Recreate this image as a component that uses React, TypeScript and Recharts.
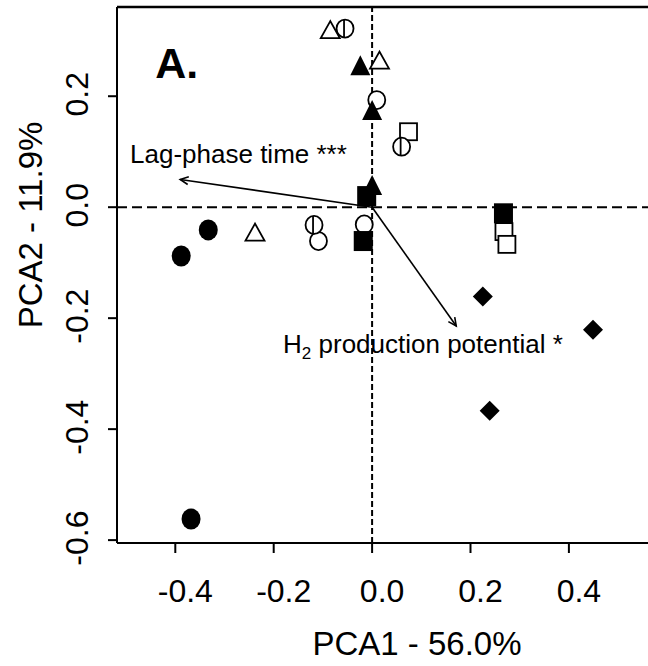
import React from "react";
import {
  ScatterChart,
  Scatter,
  XAxis,
  YAxis,
  ReferenceLine,
  ReferenceDot,
  Label,
} from "recharts";

// PCA scores, grouped by plotting symbol
const openTriangles = [
  { x: -0.085, y: 0.32 },
  { x: 0.015, y: 0.265 },
  { x: -0.238, y: -0.045 },
];
const openSquares = [
  { x: 0.074, y: 0.136 },
  { x: 0.268, y: -0.044 },
  { x: 0.274, y: -0.067 },
];
const openCircles = [
  { x: 0.0095, y: 0.193 },
  { x: -0.109, y: -0.061 },
  { x: -0.016, y: -0.031 },
];
const barredCircles = [
  { x: -0.055, y: 0.322 },
  { x: 0.06, y: 0.109 },
  { x: -0.118, y: -0.032 },
];
const filledCircles = [
  { x: -0.333, y: -0.041 },
  { x: -0.388, y: -0.088 },
  { x: -0.368, y: -0.562 },
];
const filledTriangles = [
  { x: -0.024, y: 0.256 },
  { x: 0.0, y: 0.175 },
  { x: 0.0, y: 0.04 },
];
const filledSquares = [
  { x: -0.011, y: 0.02 },
  { x: -0.018, y: -0.061 },
  { x: 0.267, y: -0.011 },
];
const filledDiamonds = [
  { x: 0.225, y: -0.161 },
  { x: 0.449, y: -0.221 },
  { x: 0.239, y: -0.367 },
];

// loading vectors (arrow tips)
const lagPhase = { x: -0.39, y: 0.05 };
const h2Potential = { x: 0.171, y: -0.214 };

const X_TICKS = [-0.4, -0.2, 0, 0.2, 0.4];
const Y_TICKS = [-0.6, -0.4, -0.2, 0, 0.2];
const X_DOMAIN = [-0.5185, 0.6868];
const Y_DOMAIN = [-0.6052, 0.3608];

const FONT = "'Liberation Sans', Arial, Helvetica, sans-serif";

const OpenTriangle = ({ cx, cy }: any) => (
  <polygon
    points={`${cx},${cy - 8.5} ${cx - 9.5},${cy + 8.5} ${cx + 9.5},${cy + 8.5}`}
    fill="#fff"
    stroke="#000"
    strokeWidth={1.8}
  />
);
const FilledTriangle = ({ cx, cy }: any) => (
  <polygon
    points={`${cx},${cy - 10} ${cx - 10},${cy + 10} ${cx + 10},${cy + 10}`}
    fill="#000"
  />
);
const OpenSquare = ({ cx, cy }: any) => (
  <rect x={cx - 8.5} y={cy - 8.5} width={17} height={17} fill="#fff" stroke="#000" strokeWidth={1.8} />
);
const FilledSquare = ({ cx, cy }: any) => (
  <rect x={cx - 9.5} y={cy - 10} width={19} height={20} fill="#000" />
);
const OpenCircle = ({ cx, cy }: any) => (
  <ellipse cx={cx} cy={cy} rx={8.5} ry={9} fill="#fff" stroke="#000" strokeWidth={1.8} />
);
const BarredCircle = ({ cx, cy }: any) => (
  <g>
    <ellipse cx={cx} cy={cy} rx={8.5} ry={9} fill="#fff" stroke="#000" strokeWidth={1.8} />
    <line x1={cx - 1} y1={cy - 9} x2={cx - 1} y2={cy + 9} stroke="#000" strokeWidth={1.8} />
  </g>
);
const FilledCircle = ({ cx, cy }: any) => (
  <ellipse cx={cx} cy={cy} rx={9.5} ry={10.5} fill="#000" />
);
const FilledDiamond = ({ cx, cy }: any) => (
  <polygon
    points={`${cx},${cy - 10} ${cx + 10},${cy} ${cx},${cy + 10} ${cx - 10},${cy}`}
    fill="#000"
  />
);

const Arrow = ({ x1, y1, x2, y2 }: any) => {
  const a = Math.atan2(y2 - y1, x2 - x1);
  const len = 9;
  const spread = Math.PI / 7;
  const p1 = [x2 - len * Math.cos(a - spread), y2 - len * Math.sin(a - spread)];
  const p2 = [x2 - len * Math.cos(a + spread), y2 - len * Math.sin(a + spread)];
  return (
    <g stroke="#000" strokeWidth={1.6} fill="none">
      <line x1={x1} y1={y1} x2={x2} y2={y2} />
      <polyline points={`${p1[0]},${p1[1]} ${x2},${y2} ${p2[0]},${p2[1]}`} />
    </g>
  );
};

const XTick = ({ x, y, payload }: any) => (
  <text x={x + 10} y={y + 49} textAnchor="middle" fontSize={32} fontFamily={FONT} fill="#000">
    {Number(payload.value).toFixed(1)}
  </text>
);

const YTick = ({ x, y, payload }: any) => (
  <text
    x={x - 20}
    y={y - 2}
    transform={`rotate(-90, ${x - 20}, ${y - 2})`}
    textAnchor="middle"
    fontSize={32}
    fontFamily={FONT}
    fill="#000"
  >
    {Number(payload.value).toFixed(1)}
  </text>
);

export default function App() {
  return (
    <div
      style={{
        position: "absolute",
        left: 0,
        top: 0,
        width: 648,
        height: 666,
        overflow: "hidden",
        background: "#fff",
      }}
    >
      <ScatterChart width={720} height={666} margin={{ top: 7, right: 10, bottom: 63, left: 17 }}>
        <XAxis
          type="number"
          dataKey="x"
          domain={X_DOMAIN}
          ticks={X_TICKS}
          allowDataOverflow
          height={60}
          tickSize={10}
          tickMargin={0}
          axisLine={{ stroke: "#000", strokeWidth: 2 }}
          tickLine={{ stroke: "#000", strokeWidth: 2 }}
          tick={<XTick />}
        >
          <Label
            content={({ viewBox }: any) => (
              <text
                x={viewBox.x + 300}
                y={viewBox.y + 112}
                textAnchor="middle"
                fontSize={33}
                fontFamily={FONT}
                fill="#000"
              >
                PCA1 - 56.0%
              </text>
            )}
          />
        </XAxis>
        <YAxis
          type="number"
          dataKey="y"
          domain={Y_DOMAIN}
          ticks={Y_TICKS}
          allowDataOverflow
          width={100}
          tickSize={9}
          tickMargin={0}
          axisLine={{ stroke: "#000", strokeWidth: 2 }}
          tickLine={{ stroke: "#000", strokeWidth: 2 }}
          tick={<YTick />}
        >
          <Label
            content={({ viewBox }: any) => (
              <text
                x={viewBox.x + 25}
                y={viewBox.y + 218}
                transform={`rotate(-90, ${viewBox.x + 25}, ${viewBox.y + 218})`}
                textAnchor="middle"
                fontSize={33}
                fontFamily={FONT}
                fill="#000"
              >
                PCA2 - 11.9%
              </text>
            )}
          />
        </YAxis>

        {/* top edge of the plot box */}
        <ReferenceLine y={Y_DOMAIN[1]} stroke="#000" strokeWidth={2.4} />

        <ReferenceLine x={0} stroke="#000" strokeWidth={2} strokeDasharray="6 3" />
        <ReferenceLine y={0} stroke="#000" strokeWidth={2} strokeDasharray="10 5" />

        <Scatter data={openTriangles} shape={<OpenTriangle />} isAnimationActive={false} />
        <Scatter data={openSquares} shape={<OpenSquare />} isAnimationActive={false} />
        <Scatter data={openCircles} shape={<OpenCircle />} isAnimationActive={false} />
        <Scatter data={barredCircles} shape={<BarredCircle />} isAnimationActive={false} />
        <Scatter data={filledCircles} shape={<FilledCircle />} isAnimationActive={false} />
        <Scatter data={filledTriangles} shape={<FilledTriangle />} isAnimationActive={false} />
        <Scatter data={filledSquares} shape={<FilledSquare />} isAnimationActive={false} />
        <Scatter data={filledDiamonds} shape={<FilledDiamond />} isAnimationActive={false} />

        <ReferenceLine segment={[{ x: 0, y: 0 }, lagPhase]} shape={<Arrow />} />
        <ReferenceLine segment={[{ x: 0, y: 0 }, h2Potential]} shape={<Arrow />} />

        <ReferenceDot
          x={-0.492}
          y={0.079}
          r={0}
          shape={(p: any) => (
            <text x={p.cx} y={p.cy} fontSize={26} fontFamily={FONT} fill="#000">
              Lag-phase time ***
            </text>
          )}
        />
        <ReferenceDot
          x={-0.181}
          y={-0.263}
          r={0}
          shape={(p: any) => (
            <text x={p.cx} y={p.cy} fontSize={26} fontFamily={FONT} fill="#000">
              H
              <tspan fontSize={17} dy={6}>2</tspan>
              <tspan dy={-6}> production potential *</tspan>
            </text>
          )}
        />
        <ReferenceDot
          x={-0.441}
          y={0.232}
          r={0}
          shape={(p: any) => (
            <text x={p.cx} y={p.cy} fontSize={43} fontWeight="bold" fontFamily={FONT} fill="#000">
              A.
            </text>
          )}
        />
      </ScatterChart>
    </div>
  );
}
